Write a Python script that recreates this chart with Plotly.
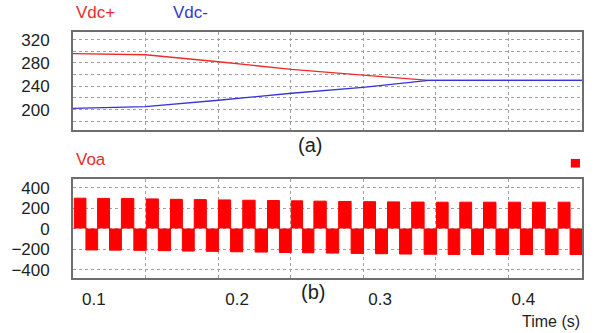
import plotly.graph_objects as go

# ---- data ----
# Panel (a): DC-link capacitor voltages
t_dc = [0.0854, 0.136, 0.187, 0.238, 0.288, 0.334, 0.441]
vdc_pos = [296, 294, 282, 269, 259, 250, 250]
vdc_neg = [202, 205, 216, 228, 238, 250, 250]

# Panel (b): output voltage Voa, start time of each positive half-cycle block
block_starts = [0.0863, 0.1026, 0.1192, 0.1366, 0.1535, 0.1701, 0.1870, 0.2040,
                0.2213, 0.2379, 0.2537, 0.2710, 0.2884, 0.3051, 0.3220, 0.3394,
                0.3556, 0.3722, 0.3896, 0.4064, 0.4243]
block_end = 0.441
voa_pos = [297, 295, 293, 290, 286, 283, 280, 277, 274, 271, 268, 265, 263,
           261, 259, 258, 258, 258, 258, 258, 258]
voa_neg = [-208, -210, -212, -215, -219, -222, -226, -229, -233, -236, -239,
           -242, -245, -248, -250, -252, -253, -253, -253, -253, -253]

x_tick_labels = [0.1, 0.2, 0.3, 0.4]
y1_ticks = [180, 200, 220, 240, 260, 280, 300, 320]
y1_labels = ["", "200", "", "240", "", "280", "", "320"]
y2_ticks = [-400, -200, 0, 200, 400]

# ---- build the step waveform ----
edges = block_starts + [block_end]
wx, wy = [], []
for i, t0 in enumerate(block_starts):
    t1 = edges[i + 1]
    tm = (t0 + t1) / 2
    wx += [t0, t0, tm, tm, t1, t1]
    wy += [0, voa_pos[i], voa_pos[i], voa_neg[i], voa_neg[i], 0]

RED = "#ee2b2b"
BLUE = "#3535d6"
GRID = "#a0a0a0"
FRAME = "#6e6e6e"
FONT = "Liberation Sans"
TXT = "#1e1e1e"

fig = go.Figure()
fig.add_trace(go.Scatter(x=t_dc, y=vdc_pos, mode="lines", line=dict(color=RED, width=1.4),
                         xaxis="x", yaxis="y", showlegend=False))
fig.add_trace(go.Scatter(x=t_dc, y=vdc_neg, mode="lines", line=dict(color=BLUE, width=1.4),
                         xaxis="x", yaxis="y", showlegend=False))
fig.add_trace(go.Scatter(x=wx, y=wy, mode="lines", line=dict(color="#ff0000", width=1),
                         fill="tozeroy", fillcolor="#ff0000",
                         xaxis="x2", yaxis="y2", showlegend=False))
# invisible carrier trace so the time-label axis is drawn
fig.add_trace(go.Scatter(x=x_tick_labels, y=[None] * len(x_tick_labels), mode="lines",
                         xaxis="x3", yaxis="y2", showlegend=False, hoverinfo="skip"))

xr = [0.0854, 0.441]
grid_x = dict(range=xr, tick0=0.1361, dtick=0.0507, showticklabels=False, ticks="",
              showgrid=True, gridcolor=GRID, griddash="dot", gridwidth=1,
              showline=True, mirror=True, linecolor=FRAME, linewidth=1.8, zeroline=False)

fig.update_layout(
    width=595, height=333,
    margin=dict(l=72, r=11, t=32, b=55),
    paper_bgcolor="white", plot_bgcolor="white",
    font=dict(family=FONT, size=17, color=TXT),
    xaxis=dict(domain=[0, 1], anchor="y", **grid_x),
    yaxis=dict(domain=[0.6016, 1], range=[165, 333], tickvals=y1_ticks, ticktext=y1_labels,
               showgrid=True, gridcolor=GRID, griddash="dot", ticks="",
               showline=True, mirror=True, linecolor=FRAME, linewidth=1.8, zeroline=False,
               ticklabelstandoff=18),
    xaxis2=dict(domain=[0, 1], anchor="y2", **grid_x),
    yaxis2=dict(domain=[0, 0.404], range=[-482, 488], tickvals=y2_ticks,
                showgrid=True, gridcolor=GRID, griddash="dot", ticks="",
                showline=True, mirror=True, linecolor=FRAME, linewidth=1.8, zeroline=False,
                ticklabelstandoff=18),
    xaxis3=dict(overlaying="x2", anchor="y2", side="bottom", range=xr,
                tickvals=x_tick_labels, ticktext=[str(v) for v in x_tick_labels],
                showgrid=False, showline=False, ticks="", zeroline=False,
                ticklabelstandoff=9, tickfont=dict(size=17, color=TXT)),
    shapes=[dict(type="rect", xref="paper", yref="paper", x0=0.978, x1=0.996,
                 y0=0.449, y1=0.484, fillcolor="#ff0000", line=dict(width=0))],
    annotations=[
        dict(text="Vdc+", x=0.002, y=1.081, xref="paper", yref="paper", xanchor="left",
             yanchor="middle", showarrow=False, font=dict(color=RED, size=17)),
        dict(text="Vdc-", x=0.193, y=1.081, xref="paper", yref="paper", xanchor="left",
             yanchor="middle", showarrow=False, font=dict(color=BLUE, size=17)),
        dict(text="(a)", x=0.465, y=0.541, xref="paper", yref="paper", xanchor="center",
             yanchor="middle", showarrow=False, font=dict(size=20, color=TXT)),
        dict(text="Voa", x=0.002, y=0.4837, xref="paper", yref="paper", xanchor="left",
             yanchor="middle", showarrow=False, font=dict(color=RED, size=17)),
        dict(text="(b)", x=0.471, y=-0.057, xref="paper", yref="paper", xanchor="center",
             yanchor="middle", showarrow=False, font=dict(size=20, color=TXT)),
        dict(text="Time (s)", x=1.0, y=-0.178, xref="paper", yref="paper", xanchor="right",
             yanchor="middle", showarrow=False, font=dict(size=16, color=TXT)),
    ],
)

fig.write_html("out.html")
